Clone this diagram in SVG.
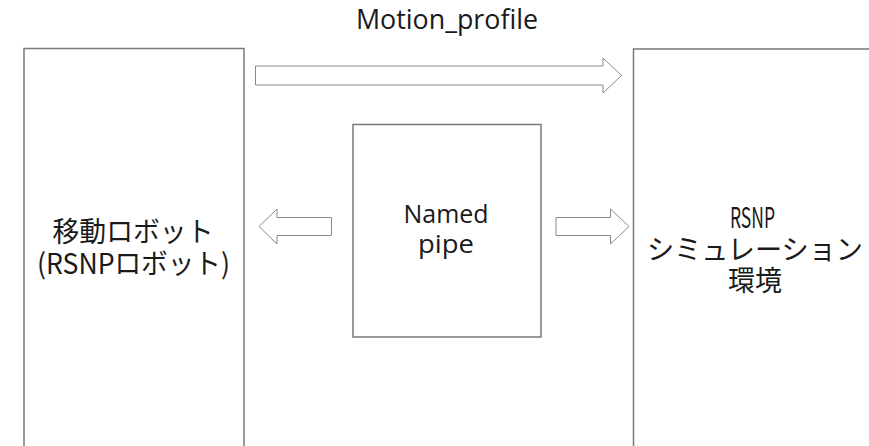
<svg xmlns="http://www.w3.org/2000/svg" width="869" height="446" viewBox="0 0 869 446">
<style>
.box{fill:#ffffff;stroke:#7a7a7a;stroke-width:1.5}
.arr{fill:#ffffff;stroke:#8a8a8a;stroke-width:1}
.lat{font-family:"Open Sans","Noto Sans","Noto Sans CJK JP",sans-serif;fill:#1a1a1a;text-anchor:middle}
.jp{font-family:"Noto Sans CJK JP","Noto Sans",sans-serif;fill:#1a1a1a;text-anchor:middle}
</style>
<rect width="869" height="446" fill="#ffffff"/>
<text class="lat" x="447" y="28.5" font-size="27" textLength="182" lengthAdjust="spacingAndGlyphs">Motion_profile</text>
<g id="robot">
<rect class="box" x="24" y="48.5" width="220" height="410"/>
<text class="jp" x="133" y="242" font-size="28" textLength="161" lengthAdjust="spacingAndGlyphs">移動ロボット</text>
<text class="jp" x="133.5" y="274" font-size="28" textLength="193" lengthAdjust="spacingAndGlyphs">(RSNPロボット)</text>
</g>
<g id="sim">
<rect class="box" x="633.5" y="49" width="260" height="410"/>
<text class="jp" x="752.5" y="228" font-size="29" textLength="45" lengthAdjust="spacingAndGlyphs">RSNP</text>
<text class="jp" x="755" y="260" font-size="28" textLength="216" lengthAdjust="spacingAndGlyphs">シミュレーション</text>
<text class="jp" x="755" y="291" font-size="28" textLength="54" lengthAdjust="spacingAndGlyphs">環境</text>
</g>
<g id="pipe">
<rect class="box" x="353" y="124.5" width="188" height="212.5"/>
<text class="lat" x="446" y="222.5" font-size="26" textLength="85" lengthAdjust="spacingAndGlyphs">Named</text>
<text class="lat" x="446" y="253" font-size="26" textLength="56" lengthAdjust="spacingAndGlyphs">pipe</text>
</g>
<g id="connectors">
<polygon class="arr" points="255.5,66 603,66 603,58 621.5,75.5 603,93 603,85 255.5,85"/>
<polygon class="arr" points="331.5,217.5 277,217.5 277,209 259,226.5 277,244 277,235.5 331.5,235.5"/>
<polygon class="arr" points="556,217.5 610.5,217.5 610.5,209 629,226.5 610.5,244 610.5,235.5 556,235.5"/>
</g>
</svg>
